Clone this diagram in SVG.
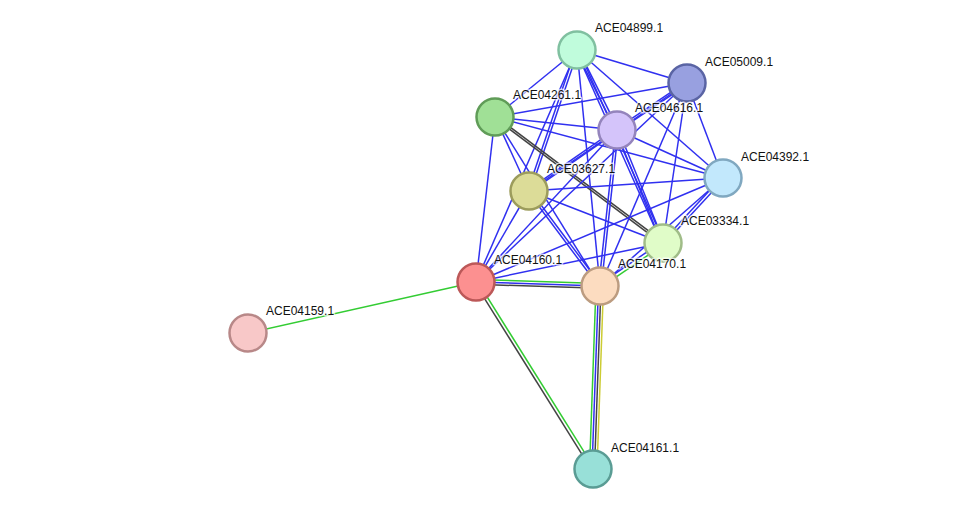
<svg xmlns="http://www.w3.org/2000/svg" width="976" height="515" viewBox="0 0 976 515">
<style>
.b{stroke:#3030f0;stroke-width:1.5;fill:none}
.g{stroke:#33cc33;stroke-width:1.5;fill:none}
.k{stroke:#444;stroke-width:1.5;fill:none}
.y{stroke:#cccc33;stroke-width:1.5;fill:none}
.n{stroke-width:2.5}
.t{font-family:"Liberation Sans",Arial,sans-serif;font-size:12px;fill:#111;stroke:#fff;stroke-width:3;stroke-opacity:0.7;paint-order:stroke;stroke-linejoin:round}
</style>
<rect width="976" height="515" fill="#fff"/>
<g id="edges">
<line class="b" x1="577" y1="50" x2="495" y2="117"/>
<line class="b" x1="577" y1="50" x2="687" y2="83"/>
<line class="b" x1="578.2" y1="49.4" x2="618.2" y2="129.4"/>
<line class="b" x1="575.8" y1="50.6" x2="615.8" y2="130.6"/>
<line class="b" x1="578.2" y1="50.4" x2="530.2" y2="191.4"/>
<line class="b" x1="575.8" y1="49.6" x2="527.8" y2="190.6"/>
<line class="b" x1="577" y1="50" x2="476" y2="282"/>
<line class="b" x1="577" y1="50" x2="600" y2="286"/>
<line class="b" x1="578.2" y1="49.5" x2="664.2" y2="242.5"/>
<line class="b" x1="575.8" y1="50.5" x2="661.8" y2="243.5"/>
<line class="b" x1="577" y1="50" x2="723" y2="178"/>
<line class="b" x1="495" y1="117" x2="687" y2="83"/>
<line class="b" x1="495" y1="117" x2="617" y2="130"/>
<line class="b" x1="495" y1="117" x2="723" y2="178"/>
<line class="b" x1="495" y1="117" x2="529" y2="191"/>
<line class="b" x1="495" y1="117" x2="600" y2="286"/>
<line class="b" x1="495" y1="117" x2="476" y2="282"/>
<line class="k" x1="495.6" y1="116.2" x2="663.6" y2="242.2"/>
<line class="k" x1="494.4" y1="117.8" x2="662.4" y2="243.8"/>
<line class="b" x1="687.7" y1="84.1" x2="617.7" y2="131.1"/>
<line class="b" x1="686.3" y1="81.9" x2="616.3" y2="128.9"/>
<line class="b" x1="687" y1="83" x2="529" y2="191"/>
<line class="b" x1="687" y1="83" x2="476" y2="282"/>
<line class="b" x1="687" y1="83" x2="600" y2="286"/>
<line class="b" x1="687" y1="83" x2="663" y2="243"/>
<line class="b" x1="687" y1="83" x2="723" y2="178"/>
<line class="b" x1="617.7" y1="131.1" x2="529.7" y2="192.1"/>
<line class="b" x1="616.3" y1="128.9" x2="528.3" y2="189.9"/>
<line class="b" x1="617" y1="130" x2="476" y2="282"/>
<line class="b" x1="618.3" y1="130.1" x2="601.3" y2="286.1"/>
<line class="b" x1="615.7" y1="129.9" x2="598.7" y2="285.9"/>
<line class="b" x1="618.2" y1="129.5" x2="664.2" y2="242.5"/>
<line class="b" x1="615.8" y1="130.5" x2="661.8" y2="243.5"/>
<line class="b" x1="617" y1="130" x2="723" y2="178"/>
<line class="b" x1="529" y1="191" x2="723" y2="178"/>
<line class="b" x1="529" y1="191" x2="663" y2="243"/>
<line class="b" x1="530" y1="190.2" x2="601" y2="285.2"/>
<line class="b" x1="528" y1="191.8" x2="599" y2="286.8"/>
<line class="b" x1="529" y1="191" x2="476" y2="282"/>
<line class="b" x1="723" y1="178" x2="476" y2="282"/>
<line class="b" x1="723" y1="178" x2="600" y2="286"/>
<line class="b" x1="724" y1="178.9" x2="664" y2="243.9"/>
<line class="b" x1="722" y1="177.1" x2="662" y2="242.1"/>
<line class="b" x1="663" y1="243" x2="476" y2="282"/>
<line class="g" x1="664" y1="244.3" x2="601" y2="287.3"/>
<line class="b" x1="662" y1="241.7" x2="599" y2="284.7"/>
<line class="g" x1="476" y1="279.5" x2="600" y2="283.5"/>
<line class="b" x1="476" y1="282" x2="600" y2="286"/>
<line class="k" x1="476" y1="284.3" x2="600" y2="288.3"/>
<line class="g" x1="477.3" y1="281.2" x2="594.3" y2="468.2"/>
<line class="k" x1="474.7" y1="282.8" x2="591.7" y2="469.8"/>
<line class="g" x1="596" y1="286" x2="589.5" y2="469"/>
<line class="b" x1="598.5" y1="286" x2="592" y2="469"/>
<line class="k" x1="601" y1="286" x2="594.5" y2="469"/>
<line class="y" x1="603.5" y1="286" x2="597" y2="469"/>
<line class="g" x1="476" y1="282" x2="248" y2="333"/>
</g>
<g id="n04899"><circle class="n" cx="577" cy="50" r="18.5" fill="#c0fcdc" stroke="#80c0a0"/><text class="t" x="595" y="32">ACE04899.1</text></g>
<g id="n05009"><circle class="n" cx="687" cy="83" r="18.5" fill="#98a0e0" stroke="#5a64a4"/><text class="t" x="705" y="66">ACE05009.1</text></g>
<g id="n04261"><circle class="n" cx="495" cy="117" r="18.5" fill="#a0e096" stroke="#609c58"/><text class="t" x="513" y="99">ACE04261.1</text></g>
<g id="n04616"><circle class="n" cx="617" cy="130" r="18.5" fill="#d4c4fa" stroke="#9484bc"/><text class="t" x="635" y="112">ACE04616.1</text></g>
<g id="n03627"><circle class="n" cx="529" cy="191" r="18.5" fill="#dcdc98" stroke="#9c9c5c"/><text class="t" x="547" y="173">ACE03627.1</text></g>
<g id="n04392"><circle class="n" cx="723" cy="178" r="18.5" fill="#c2e8fc" stroke="#80a8c0"/><text class="t" x="741" y="161">ACE04392.1</text></g>
<g id="n03334"><circle class="n" cx="663" cy="243" r="18.5" fill="#e0fcc8" stroke="#a0bc88"/><text class="t" x="681" y="225">ACE03334.1</text></g>
<g id="n04160"><circle class="n" cx="476" cy="282" r="18.5" fill="#fc9090" stroke="#bc5858"/><text class="t" x="494" y="264">ACE04160.1</text></g>
<g id="n04170"><circle class="n" cx="600" cy="286" r="18.5" fill="#fcdcc0" stroke="#bc9c80"/><text class="t" x="618" y="268">ACE04170.1</text></g>
<g id="n04159"><circle class="n" cx="248" cy="333" r="18.5" fill="#f8c8c8" stroke="#b88888"/><text class="t" x="266" y="315">ACE04159.1</text></g>
<g id="n04161"><circle class="n" cx="593" cy="469" r="18.5" fill="#98e0d8" stroke="#5a9c94"/><text class="t" x="611" y="452">ACE04161.1</text></g>
</svg>
